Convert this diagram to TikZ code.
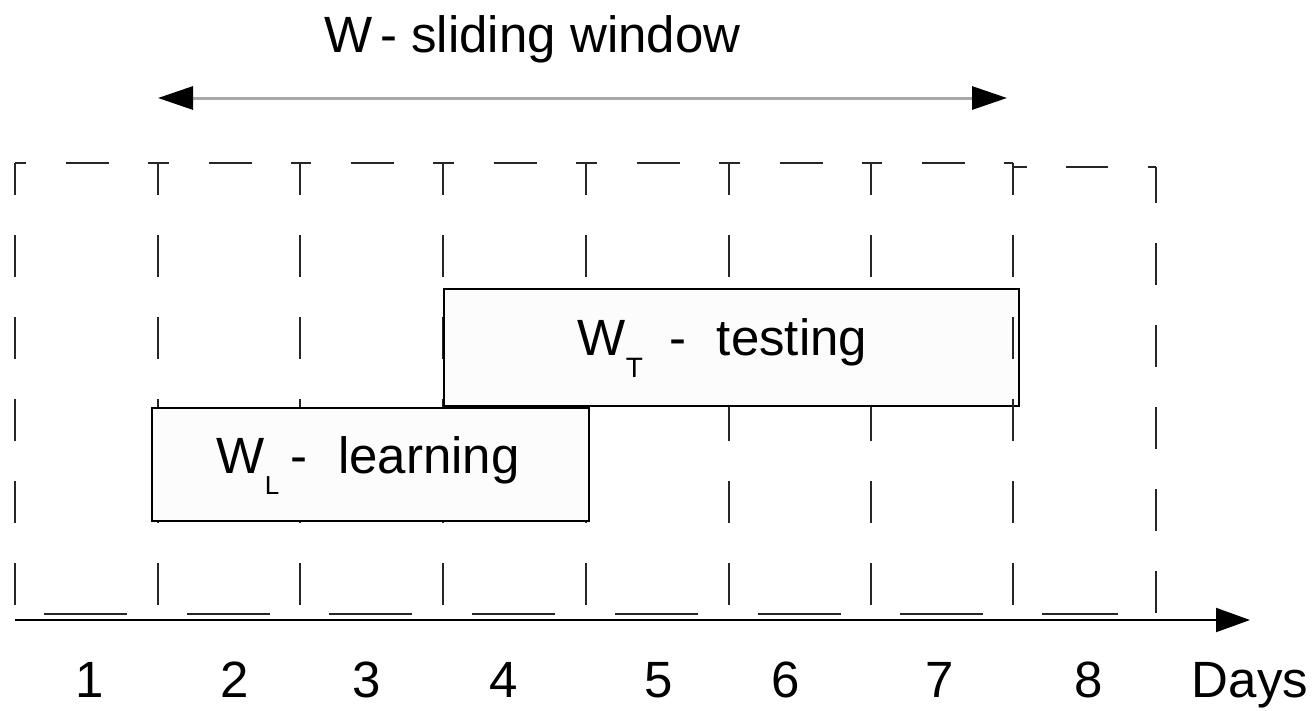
\documentclass[tikz,border=0pt]{standalone}
\usepackage{fontspec}
\setmainfont{Liberation Sans}
\usetikzlibrary{arrows.meta}
\definecolor{gridline}{HTML}{262626}
\definecolor{boxfill}{HTML}{FCFCFC}
\definecolor{spanline}{HTML}{A8A8A8}

\begin{document}
\begin{tikzpicture}[x=1pt,y=-1pt,
  bigtext/.style={inner sep=0pt, font=\fontsize{51}{60}\selectfont},
  gridv/.style={draw=gridline, line width=2pt, dash pattern=on 42pt off 40pt, dash phase=10pt},
  gridtop/.style={draw=gridline, line width=2pt,
    dash pattern=on 11pt off 39.5pt on 43pt off 39.5pt on 12pt off 1pt},
  gridbot/.style={draw=gridline, line width=2pt},
  period/.style={draw=black, line width=2pt, fill=boxfill, inner sep=0pt, anchor=north west},
]
\useasboundingbox (0,0) rectangle (1313,710);

% day columns (dashed grid)
\foreach \a in {15,158,300,443,586,729,871}
  \draw[gridv] (\a,163) -- (\a,605);
\foreach \a/\b in {15/158,158/300,300/443,443/586,586/729,729/871,871/1013}
  \draw[gridtop] (\a,163) -- (\b,163);
\foreach \a in {15,158,300,443,586,729,871}
  \draw[gridbot] (\a+29,614) -- (\a+112,614);

% learning and testing periods
\node[period, minimum width=575pt, minimum height=117pt] (wt) at (443,288) {};
\node[period, minimum width=437pt, minimum height=113pt] (wl) at (151,407) {};

% last day column
\draw[gridv] (1013,163) -- (1013,605);
\draw[gridv, dash phase=6pt] (1156,167) -- (1156,613);
\draw[draw=gridline, line width=2pt,
  dash pattern=on 14pt off 39pt on 42pt off 40pt on 9pt off 1pt] (1013,167) -- (1156,167);
\draw[gridbot] (1042,614) -- (1118,614);

% time axis
\coordinate (t0) at (15,620);
\coordinate (tend) at (1250,620);
\draw[line width=2pt, -{Triangle[length=34pt,width=24pt]}] (t0) -- (tend);

% sliding window span
\coordinate (ws) at (158,98);
\coordinate (we) at (1007,98);
\draw[draw=spanline, line width=3pt,
  {Triangle[length=35pt,width=23pt,color=black]}-{Triangle[length=35pt,width=23pt,color=black]}]
  (ws) -- (we);

% labels
\node[bigtext, anchor=base west] (title) at (324,52) {W\hspace{8pt}- sliding window};
\node[bigtext, anchor=base west] (wt-label) at (577.5,355)
  {W\raisebox{-22pt}{\fontsize{28}{28}\selectfont T}\hspace{27pt}-\hspace{30pt}testing};
\node[bigtext, anchor=base west] (wl-label) at (216.5,473)
  {W\raisebox{-21pt}{\fontsize{26}{26}\selectfont L}\hspace{11.5pt}-\hspace{30.5pt}learning};

\foreach \n/\x in {1/89.5,2/235,3/366.5,4/503.5,5/658.5,6/785.5,7/940,8/1089}
  \node[bigtext, anchor=base] (day\n) at (\x,697) {\n};
\node[bigtext, anchor=base] (days) at (1250,697) {Days};
\end{tikzpicture}
\end{document}
